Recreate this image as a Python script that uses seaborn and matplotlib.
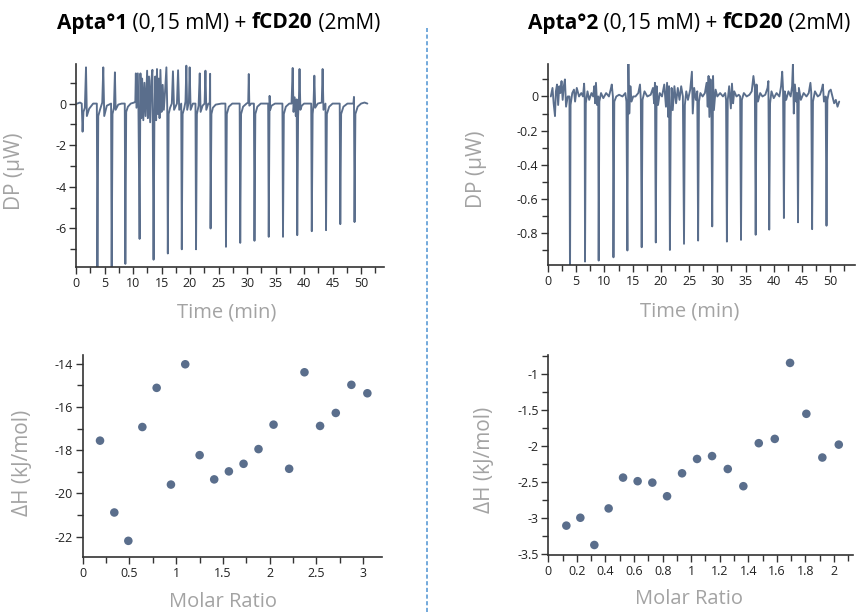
import numpy as np
import pandas as pd
import seaborn as sns
import matplotlib.pyplot as plt
from matplotlib.lines import Line2D
from matplotlib.ticker import MultipleLocator, FuncFormatter

# ---- data ----
# thermogram, Apta°1 + fCD20 (time in min, DP in µW)
dp1_time = [
    0.2, 0.7,
    1.0, 1.15, 1.3, 1.55, 1.75, 1.9, 2.3, 3.0,
    3.65, 3.75, 3.9, 4.2, 4.6, 4.78, 4.95, 5.4,
    6.15, 6.25, 6.4, 6.65, 6.82, 6.95, 7.4, 8.0,
    8.55, 8.65, 8.8, 9.1, 9.6, 10.2,
    10.4, 10.49, 10.6, 10.84, 10.95, 11.15, 11.3, 11.45, 11.6, 11.8, 12.0,
    12.2, 12.47, 12.6, 12.8, 13.0, 13.2, 13.4,
    13.6, 13.75, 13.9, 14.05, 14.2, 14.35, 14.5, 14.65, 14.8, 15.0, 15.2, 15.4, 15.6, 15.85, 16.0,
    16.1, 16.25, 16.5, 16.8, 17.0, 17.2, 17.7, 17.9, 18.1,
    18.45, 18.55, 18.7, 19.0, 19.2, 19.35, 19.5, 19.8, 19.93, 20.1, 20.5,
    20.95, 21.05, 21.2, 21.5, 21.7, 21.85, 22.2, 22.55, 22.7, 22.85, 23.2,
    23.45, 23.52, 23.6, 23.75, 24.0, 24.5, 25.5,
    26.2, 26.3, 26.45, 26.8, 27.4, 28.2,
    28.7, 28.8, 28.95, 29.3, 29.9,
    30.2, 30.3, 30.4, 30.7,
    31.2, 31.3, 31.45, 31.8, 32.4, 33.2,
    33.7, 33.8, 33.95, 34.05, 34.3, 34.9, 35.6,
    36.2, 36.3, 36.45, 36.8, 37.4,
    37.8, 38.0, 38.15, 38.35, 38.55, 38.7, 38.8, 38.95, 39.1, 39.2, 39.35, 39.6, 40.0, 40.6,
    41.25, 41.35, 41.5, 41.65, 41.8, 41.95, 42.4,
    43.1, 43.25, 43.4, 43.75, 43.85, 44.0, 44.4, 45.0,
    46.25, 46.35, 46.5, 46.9, 47.6,
    48.65, 48.75, 48.85, 49.0, 49.4, 50.0, 50.6, 51.1,
]
dp1_value = [
    0.0, 0.05,
    0.0, -1.35, -0.4, -0.2, 1.74, -0.6, -0.25, 0.0,
    0.0, -8.5, -0.6, -0.3, 0.05, 1.74, -0.6, -0.1,
    0.0, -8.5, -0.5, -0.2, 1.5, -0.3, -0.05, 0.0,
    0.0, -7.7, -0.4, -0.15, 0.0, 0.05,
    0.1, 1.45, -0.2, 1.45, -0.3, -6.5, 1.45, -0.7, 1.2, -0.8, 1.0,
    -0.6, 1.58, -0.7, 1.3, -0.9, 1.1, 1.62,
    -7.5, -0.6, 1.3, -0.8, 1.66, -0.5, 1.2, -0.7, 1.62, -0.4, 0.9, -0.3, 0.5, 1.74, -0.2,
    -7.2, -0.5, -0.2, 0.0, 1.55, -0.3, 0.0, 1.6, -0.3,
    0.0, -7.0, -0.5, -0.2, 0.1, 1.82, -0.3, 0.1, 1.74, -0.3, 0.0,
    0.0, -7.0, -0.5, -0.1, 1.45, -0.4, -0.1, 0.0, 1.58, -0.3, 0.0,
    0.0, 1.43, -6.0, -0.5, -0.2, -0.05, 0.0,
    0.0, -6.88, -0.5, -0.15, 0.0, 0.0,
    0.0, -6.69, -0.5, -0.15, 0.0,
    0.05, 1.42, -0.1, 0.0,
    0.0, -6.59, -0.5, -0.15, 0.0, 0.0,
    0.0, -6.4, 0.37, -0.3, -0.1, 0.0, 0.0,
    0.0, -6.4, -0.5, -0.15, 0.0,
    0.0, 1.71, -0.4, 0.3, -0.6, 0.2, -6.32, -0.6, 0.3, 1.66, -0.3, -0.1, 0.0, 0.0,
    0.0, -6.13, -0.5, -0.1, 1.34, -0.2, 0.0,
    0.05, 1.66, -0.3, 0.0, -6.08, -0.5, -0.15, 0.0,
    0.0, -5.79, -0.5, -0.15, 0.0,
    0.0, 0.32, -5.69, -0.5, -0.15, 0.0, 0.05, 0.0,
]

# thermogram, Apta°2 + fCD20
dp2_time = [
    0.5, 0.8, 1.0, 1.24, 1.4, 1.6, 1.8, 2.0, 2.2, 2.4, 2.6, 2.8, 3.0, 3.2, 3.5,
    3.8, 3.9, 4.0, 4.3, 4.6, 4.8, 5.1, 5.5, 5.9, 6.2, 6.4,
    6.5, 6.56, 6.7, 7.0, 7.3, 7.7, 8.0, 8.2, 8.35, 8.5, 8.7, 8.9,
    8.98, 9.1, 9.4, 9.8, 10.3, 10.8, 11.1, 11.3, 11.5,
    11.6, 11.75, 12.1, 12.6, 13.2, 13.7, 13.9, 14.07, 14.15, 14.25, 14.4, 14.6, 14.8, 15.1,
    15.5, 16.0, 16.3, 16.45,
    16.6, 16.75, 17.1, 17.6, 18.2, 18.6, 18.8, 18.95,
    19.1, 19.25, 19.5, 19.8, 20.2, 20.6, 20.9, 21.1, 21.3, 21.45,
    21.6, 21.75, 21.9, 22.1, 22.4, 22.7, 23.0, 23.3, 23.6, 23.9,
    24.1, 24.25, 24.5, 24.8, 25.2, 25.5, 25.65, 25.9, 26.2, 26.45,
    26.6, 26.75, 27.0, 27.4, 27.8, 28.1, 28.3, 28.45, 28.6, 28.8, 28.95,
    29.1, 29.25, 29.4, 29.7, 30.0, 30.5, 31.0, 31.4, 31.55,
    31.7, 31.85, 32.1, 32.4, 32.6, 32.8, 33.0, 33.4, 33.8, 34.05,
    34.2, 34.35, 34.7, 35.2, 35.7, 36.1, 36.4, 36.65,
    36.8, 36.95, 37.2, 37.6, 38.0, 38.5, 38.9, 39.05,
    39.2, 39.35, 39.6, 40.0, 40.5, 41.0, 41.3, 41.5, 41.65,
    41.8, 41.95, 42.2, 42.6, 43.0, 43.25, 43.4, 43.55, 43.75, 44.0, 44.15,
    44.3, 44.45, 44.8, 45.3, 45.8, 46.2, 46.5, 46.65,
    46.8, 46.95, 47.3, 47.8, 48.2, 48.5, 48.7, 48.9, 49.2,
    49.35, 49.5, 49.8, 50.1, 50.4, 50.7, 51.0, 51.3, 51.6,
]
dp2_value = [
    0.0, 0.05, -0.04, -0.115, 0.03, 0.07, -0.05, 0.06, 0.02, 0.09, -0.02, 0.06, 0.1, -0.06, 0.0,
    0.0, -1.1, -0.05, 0.02, 0.04, -0.03, 0.05, 0.0, 0.02, 0.0, 0.075,
    0.0, -0.967, -0.04, 0.03, -0.02, 0.02, 0.0, 0.06, -0.04, 0.08, -0.05, 0.0,
    -0.961, -0.03, 0.02, -0.01, 0.02, 0.0, 0.04, 0.07, 0.0,
    -0.942, -0.03, 0.0, 0.01, 0.0, 0.02, -0.03, -0.902, -0.16, 0.19, -0.1, 0.06, -0.03, 0.0,
    0.0, 0.02, 0.07, -0.02,
    -0.883, -0.02, 0.03, 0.0, 0.01, 0.05, -0.04, 0.08,
    -0.855, 0.06, -0.05, 0.02, 0.0, 0.07, -0.06, 0.08, -0.12, 0.06,
    -0.899, -0.12, 0.05, -0.08, 0.06, -0.04, 0.05, -0.02, 0.06, 0.0,
    -0.863, -0.05, 0.03, -0.02, 0.04, 0.145, -0.1, 0.05, -0.02, 0.03,
    -0.844, -0.03, 0.02, 0.0, 0.02, 0.08, -0.06, 0.12, -0.12, 0.1, -0.05,
    -0.761, 0.12, -0.08, 0.04, 0.0, 0.02, 0.0, 0.02, -0.02,
    -0.85, -0.02, 0.06, -0.07, 0.075, -0.04, 0.03, 0.0, 0.01, 0.0,
    -0.84, -0.02, 0.02, 0.0, 0.01, 0.03, 0.12, 0.05,
    -0.81, 0.07, -0.03, 0.02, 0.0, 0.01, 0.05, 0.09,
    -0.78, -0.04, 0.03, -0.01, 0.02, 0.0, 0.06, 0.145, 0.04,
    -0.712, 0.03, -0.02, 0.03, 0.0, 0.06, 0.195, -0.1, 0.07, -0.03, 0.02,
    -0.737, 0.05, -0.02, 0.02, 0.0, 0.02, 0.08, 0.02,
    -0.777, -0.03, 0.03, 0.0, 0.01, 0.04, 0.07, -0.03, 0.0,
    -0.757, -0.02, 0.03, 0.04, 0.0, -0.04, -0.02, -0.06, -0.03,
]

# integrated heats
ratio1 = [0.185, 0.338, 0.488, 0.638, 0.791, 0.944, 1.097, 1.251, 1.407, 1.564,
          1.721, 1.881, 2.042, 2.209, 2.373, 2.540, 2.708, 2.875, 3.046]
dh1 = [-17.56, -20.88, -22.19, -16.93, -15.12, -19.59, -14.03, -18.23, -19.35, -18.98,
       -18.63, -17.95, -16.82, -18.86, -14.40, -16.88, -16.28, -14.98, -15.37]
ratio2 = [0.126, 0.224, 0.322, 0.422, 0.523, 0.625, 0.728, 0.831, 0.936, 1.041,
          1.146, 1.256, 1.365, 1.473, 1.585, 1.692, 1.806, 1.918, 2.033]
dh2 = [-3.11, -3.00, -3.38, -2.87, -2.44, -2.49, -2.51, -2.70, -2.38, -2.18,
       -2.14, -2.32, -2.56, -1.96, -1.90, -0.84, -1.55, -2.16, -1.98]

titles = [("Apta°1", " (0,15 mM) + ", "fCD20", " (2mM)"),
          ("Apta°2", " (0,15 mM) + ", "fCD20", " (2mM)")]

# ---- style ----
sns.set_style("ticks")
plt.rcParams['font.family'] = ['Open Sans', 'DejaVu Sans']
plt.rcParams['axes.unicode_minus'] = False

blue = '#5a6e8c'
label_grey = '#a3a3a3'
tick_col = '#222222'

fig = plt.figure(figsize=(8.6, 6.12), dpi=100)
ax_tl = fig.add_axes([0.0884, 0.5637, 0.358, 0.3317])
ax_tr = fig.add_axes([0.6372, 0.5670, 0.357, 0.3284])
ax_bl = fig.add_axes([0.0962, 0.0894, 0.3477, 0.3306])
ax_br = fig.add_axes([0.6376, 0.0931, 0.354, 0.3268])

sns.lineplot(x=dp1_time, y=dp1_value, sort=False, estimator=None, ax=ax_tl,
             color=blue, lw=1.35)
sns.lineplot(x=dp2_time, y=dp2_value, sort=False, estimator=None, ax=ax_tr,
             color=blue, lw=1.35)
sns.scatterplot(x=ratio1, y=dh1, ax=ax_bl, color=blue, s=38, edgecolor='none')
sns.scatterplot(x=ratio2, y=dh2, ax=ax_br, color=blue, s=38, edgecolor='none')

fmt = FuncFormatter(lambda v, p: '{:g}'.format(round(v, 6)))

setup = [
    # ax, xlim, ylim, xmaj, xmin, ymaj, ymin, xlabel, ylabel, xlab pos, ylab pos
    (ax_tl, (0, 54), (-7.85, 1.9), 5, 2.5, 2, 1, 'Time (min)', 'DP (µW)', (0.49, -0.177), (-0.166, 0.47)),
    (ax_tr, (0, 54.4), (-0.987, 0.19), 5, 2.5, 0.2, 0.1, 'Time (min)', 'DP (µW)', (0.46, -0.18), (-0.199, 0.478)),
    (ax_bl, (0, 3.2), (-22.95, -13.6), 0.5, 0.25, 2, 1, 'Molar Ratio', 'ΔH (kJ/mol)', (0.469, -0.17), (-0.166, 0.465)),
    (ax_br, (0, 2.131), (-3.52, -0.73), 0.2, 0.1, 0.5, 0.25, 'Molar Ratio', 'ΔH (kJ/mol)', (0.462, -0.17), (-0.175, 0.475)),
]
for ax, xl, yl, xM, xm, yM, ym, xlab, ylab, xpos, ypos in setup:
    ax.set_xlim(xl)
    ax.set_ylim(yl)
    ax.xaxis.set_major_locator(MultipleLocator(xM))
    ax.xaxis.set_minor_locator(MultipleLocator(xm))
    ax.yaxis.set_major_locator(MultipleLocator(yM))
    ax.yaxis.set_minor_locator(MultipleLocator(ym))
    ax.xaxis.set_major_formatter(fmt)
    ax.yaxis.set_major_formatter(fmt)
    sns.despine(ax=ax)
    for s in ('left', 'bottom'):
        ax.spines[s].set_color('#333333')
        ax.spines[s].set_linewidth(1.2)
    ax.tick_params(which='major', direction='out', length=5, width=1, color='#333333',
                   labelsize=9, labelcolor=tick_col, pad=2)
    ax.tick_params(which='minor', direction='out', length=4, width=1, color='#333333')
    ax.set_xlabel(xlab, fontsize=14.5, color=label_grey)
    ax.set_ylabel(ylab, fontsize=15, color=label_grey)
    ax.xaxis.set_label_coords(*xpos)
    ax.yaxis.set_label_coords(*ypos)

# titles: bold / regular pieces placed side by side
fig.canvas.draw()
renderer = fig.canvas.get_renderer()
for (pieces, xc) in zip(titles, (218.5, 689.0)):
    texts = []
    for i, piece in enumerate(pieces):
        t = fig.text(0, 1 - 23 / 612, piece, fontsize=15, va='center', ha='left',
                     fontweight='bold' if i % 2 == 0 else 'normal',
                     family=['Open Sans', 'DejaVu Sans'], color='black')
        texts.append(t)
    widths = [t.get_window_extent(renderer).width for t in texts]
    x = xc - sum(widths) / 2
    for t, w in zip(texts, widths):
        t.set_x(x / 860)
        x += w

# dashed separator
fig.add_artist(Line2D([427 / 860, 427 / 860], [0, 1 - 28 / 612], transform=fig.transFigure,
                      color='#5b9bd5', lw=1.2, ls=(0, (2.5, 1.5))))

fig.savefig('out.png', dpi=100)
